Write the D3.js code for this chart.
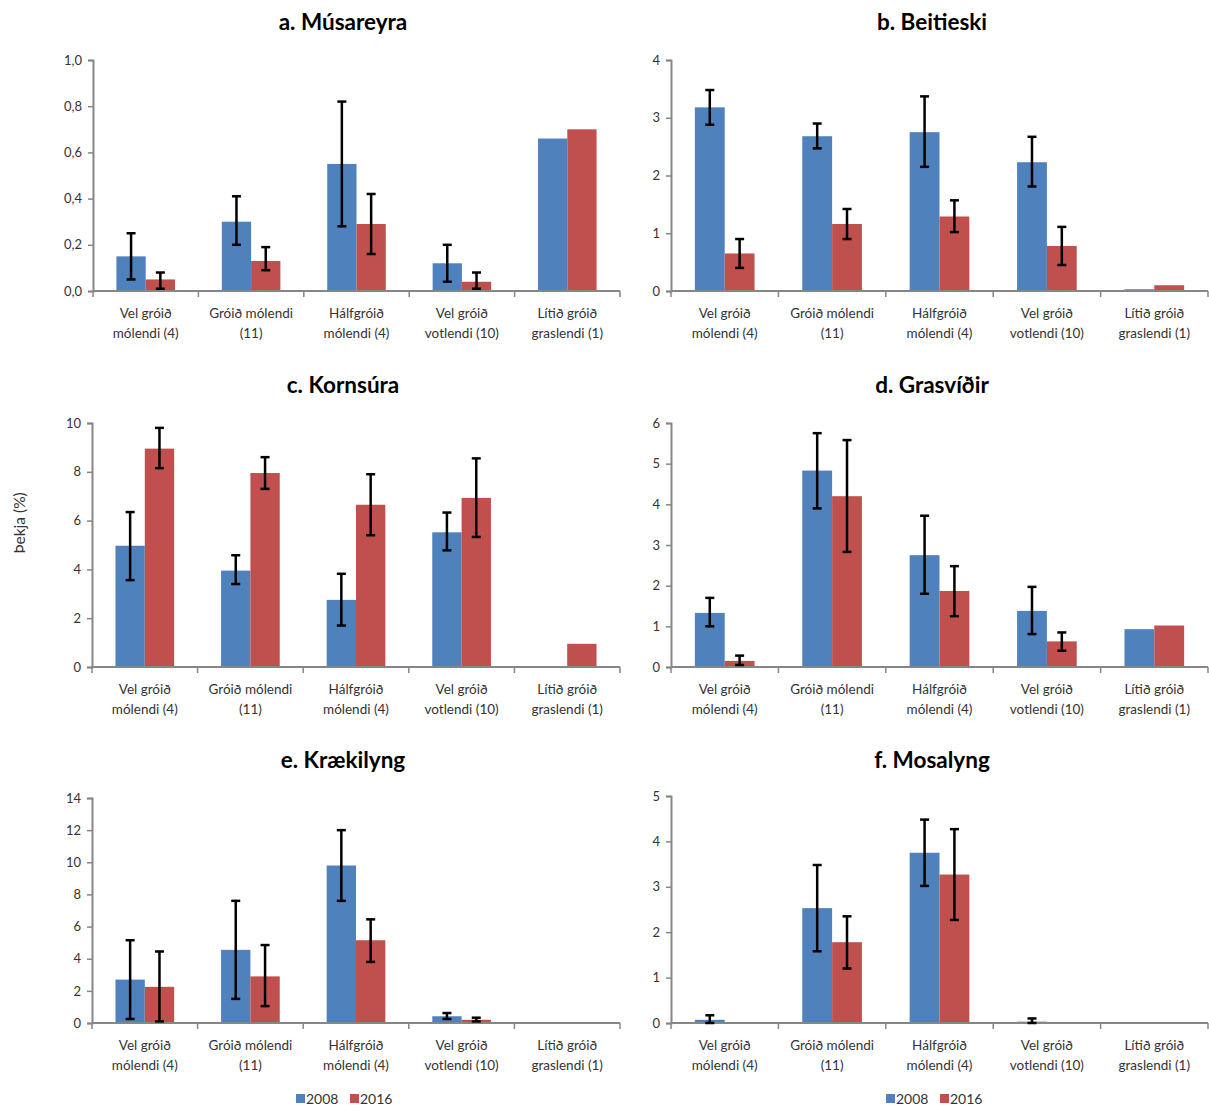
<!DOCTYPE html>
<html><head><meta charset="utf-8">
<script src="https://cdn.jsdelivr.net/npm/d3@7"></script>
<style>
body{margin:0;background:#fff;}
text{font-family:Lato,"Open Sans",sans-serif;}
</style></head>
<body><svg id="chart" width="1209" height="1108"></svg>
<script>
const categories = [["Vel gróið","mólendi (4)"],["Gróið mólendi","(11)"],["Hálfgróið","mólendi (4)"],["Vel gróið","votlendi (10)"],["Lítið gróið","graslendi (1)"]];
const seriesNames = ["2008","2016"];
const seriesColors = ["#4F81BD","#C0504D"];
const titles = ["a. Músareyra","b. Beitieski","c. Kornsúra","d. Grasvíðir","e. Krækilyng","f. Mosalyng"];
const yMax = [1.0, 4, 10, 6, 14, 5];
const yTicks = [[0,0.2,0.4,0.6,0.8,1.0],[0,1,2,3,4],[0,2,4,6,8,10],[0,1,2,3,4,5,6],[0,2,4,6,8,10,12,14],[0,1,2,3,4,5]];
const tickFormatComma = [true,false,false,false,false,false];
// values per panel
const v2008 = [
  [0.15,0.30,0.55,0.12,0.66],
  [3.18,2.68,2.75,2.23,0.03],
  [4.97,3.95,2.75,5.52,0],
  [1.33,4.83,2.75,1.38,0.93],
  [2.70,4.55,9.80,0.42,0],
  [0.07,2.53,3.75,0.03,0]
];
const v2016 = [
  [0.05,0.13,0.29,0.04,0.70],
  [0.65,1.16,1.29,0.78,0.10],
  [8.95,7.95,6.65,6.93,0.95],
  [0.15,4.20,1.87,0.63,1.02],
  [2.25,2.90,5.15,0.20,0],
  [0,1.78,3.27,0,0]
];
// error bar low/high (null = none)
const e2008Low = [
  [0.05,0.20,0.28,0.04,null],
  [2.88,2.47,2.15,1.81,null],
  [3.56,3.40,1.70,4.78,null],
  [1.00,3.90,1.80,0.81,null],
  [0.25,1.50,7.60,0.25,null],
  [0.00,1.58,3.02,0.00,null]
];
const e2008High = [
  [0.25,0.41,0.82,0.20,null],
  [3.48,2.90,3.37,2.67,null],
  [6.35,4.58,3.82,6.33,null],
  [1.70,5.75,3.72,1.97,null],
  [5.15,7.60,12.0,0.62,null],
  [0.17,3.48,4.48,0.10,null]
];
const e2016Low = [
  [0.01,0.09,0.16,0.01,null],
  [0.40,0.90,1.02,0.45,null],
  [8.15,7.30,5.40,5.33,null],
  [0.05,2.83,1.25,0.40,null],
  [0.10,1.05,3.80,0.10,null],
  [null,1.20,2.27,null,null]
];
const e2016High = [
  [0.08,0.19,0.42,0.08,null],
  [0.90,1.42,1.57,1.11,null],
  [9.80,8.60,7.90,8.55,null],
  [0.28,5.58,2.48,0.85,null],
  [4.45,4.85,6.45,0.33,null],
  [null,2.35,4.27,null,null]
];

// layout
const panels = [
  {x0:93, x1:620, top:60, bottom:291, titleY:30, titleX:343},
  {x0:671, x1:1208, top:60, bottom:291, titleY:30, titleX:932},
  {x0:92, x1:620, top:423, bottom:667, titleY:393, titleX:343},
  {x0:671, x1:1208, top:423, bottom:667, titleY:393, titleX:932},
  {x0:92, x1:620, top:798, bottom:1023, titleY:768, titleX:343},
  {x0:671, x1:1208, top:796, bottom:1023, titleY:768, titleX:932}
];
const svg = d3.select("#chart");
const axisColor = "#868686";
const commaFmt = d => d3.format(".1f")(d).replace(".", ",");

panels.forEach((p, i) => {
  const g = svg.append("g");
  const x = d3.scaleBand().domain(d3.range(categories.length)).range([p.x0, p.x1]).paddingInner(0).paddingOuter(0);
  const y = d3.scaleLinear().domain([0, yMax[i]]).range([p.bottom, p.top]);
  const xs = d3.scaleBand().domain([0,1]).range([0, x.bandwidth()]).paddingInner(0).paddingOuter(0.8);

  g.append("text").attr("x", p.titleX).attr("y", p.titleY).attr("text-anchor","middle")
    .attr("font-size", 22.5).attr("font-weight","bold").attr("fill","#000").text(titles[i]);

  const vals = [v2008[i], v2016[i]];
  const lows = [e2008Low[i], e2016Low[i]];
  const highs = [e2008High[i], e2016High[i]];
  [0,1].forEach(s => {
    vals[s].forEach((v, c) => {
      if (v <= 0) return;
      g.append("rect").attr("x", x(c) + xs(s)).attr("width", xs.bandwidth())
        .attr("y", y(v)).attr("height", y(0) - y(v)).attr("fill", seriesColors[s]);
    });
  });
  const yAxis = d3.axisLeft(y).tickValues(yTicks[i]).tickSize(5).tickPadding(6)
    .tickFormat(tickFormatComma[i] ? commaFmt : d3.format("d"));
  const ya = g.append("g").attr("transform", `translate(${p.x0},0)`).call(yAxis);
  ya.select(".domain").attr("stroke", axisColor).attr("stroke-width", 2);
  ya.selectAll(".tick line").attr("stroke", axisColor).attr("stroke-width", 1.5);
  ya.selectAll(".tick text").attr("font-size", 13).attr("fill", "#333").attr("font-family","Lato,'Open Sans',sans-serif");

  const xa = g.append("g");
  xa.append("line").attr("x1", p.x0).attr("x2", p.x1).attr("y1", y(0)).attr("y2", y(0))
    .attr("stroke", axisColor).attr("stroke-width", 2);
  d3.range(categories.length + 1).forEach(k => {
    const tx = k < categories.length ? x(k) : p.x1;
    xa.append("line").attr("x1", tx).attr("x2", tx).attr("y1", y(0)).attr("y2", y(0) + 6)
      .attr("stroke", axisColor).attr("stroke-width", 1.5);
  });
  categories.forEach((lab, c) => {
    const cx = x(c) + x.bandwidth() / 2;
    lab.forEach((line, li) => {
      xa.append("text").attr("x", cx).attr("y", y(0) + 27 + li * 19.5).attr("text-anchor","middle")
        .attr("font-size", 13.5).attr("fill","#333").text(line);
    });
  });

  [0,1].forEach(s => {
    vals[s].forEach((v, c) => {
      const lo = lows[s][c], hi = highs[s][c];
      if (lo === null || hi === null) return;
      const cx = x(c) + xs(s) + xs.bandwidth() / 2;
      g.append("line").attr("x1", cx).attr("x2", cx).attr("y1", y(lo)).attr("y2", y(hi))
        .attr("stroke","#000").attr("stroke-width", 2.5);
      [lo, hi].forEach(e => {
        g.append("line").attr("x1", cx - 4.5).attr("x2", cx + 4.5).attr("y1", y(e)).attr("y2", y(e))
          .attr("stroke","#000").attr("stroke-width", 2.5);
      });
    });
  });
});

svg.append("text").attr("transform","translate(25,523) rotate(-90)").attr("text-anchor","middle")
  .attr("font-size", 15.5).attr("fill","#333").text("Þekja (%)");

[[296, 1099], [886, 1099]].forEach(([lx, ly]) => {
  const lg = svg.append("g");
  let cx = lx;
  seriesNames.forEach((n, s) => {
    lg.append("rect").attr("x", cx).attr("y", ly - 5).attr("width", 9).attr("height", 9).attr("fill", seriesColors[s]);
    lg.append("text").attr("x", cx + 10).attr("y", ly + 5).attr("font-size", 14).attr("fill","#333").text(n);
    cx += 54;
  });
});
</script></body></html>
